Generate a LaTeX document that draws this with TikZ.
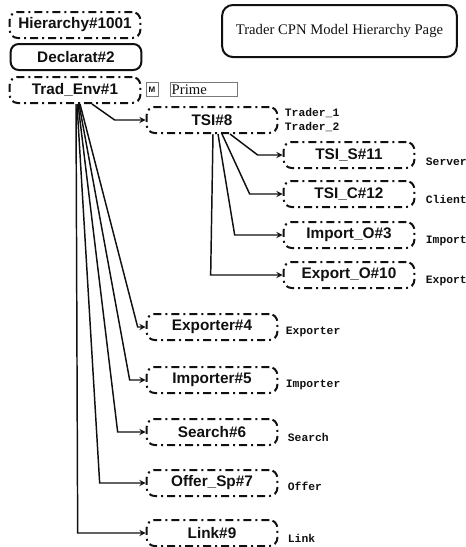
\documentclass[tikz,border=0pt]{standalone}
\usepackage{fontspec}
\setmainfont{Liberation Serif}
\setsansfont{Liberation Sans}
\setmonofont{Liberation Mono}
\usetikzlibrary{positioning}
\usetikzlibrary{calc}
\definecolor{cb}{RGB}{16,16,16}
\definecolor{cg}{RGB}{120,120,120}
\tikzstyle{page}=[cb, draw=cb, line width=1.5pt, dash pattern=on 6pt off 3pt on 1.5pt off 3pt, rounded corners=6pt, minimum width=98pt, minimum height=19.5pt, inner sep=0pt, font=\sffamily\bfseries\fontsize{11.5}{12}\selectfont]
\tikzstyle{decl}=[page, solid]
\tikzstyle{tag}=[cb, anchor=west, font=\ttfamily\bfseries\fontsize{8.5}{10}\selectfont, align=left, inner sep=1pt]
\tikzstyle{title}=[cb, draw=cb, line width=1.5pt, rounded corners=8pt, minimum width=176pt, minimum height=39pt, font=\fontsize{11}{13}\selectfont]
\tikzstyle{prime}=[cb, draw=cg, line width=0.6pt, minimum height=11pt, inner sep=0pt]
\tikzstyle{arrow}=[cb, line width=1.1pt, ->, >=stealth]

\begin{document}
\begin{tikzpicture}[x=0.75pt, y=-0.75pt]
  \useasboundingbox (0,0) rectangle (466,547);

  \node [title] (head) at (339.5,31) {Trader CPN Model Hierarchy Page};

  \node [page] (hier) at (75,25) {Hierarchy\#1001};
  \node [decl] (decl) at (76,57) {Declarat\#2};
  \node [page] (tradenv) at (75,90) {Trad\_Env\#1};
  \node [prime, minimum width=9pt, font=\sffamily\bfseries\fontsize{6}{6}\selectfont] (mtag) at (152,89.5) {M};
  \node [prime, anchor=west, text width=48pt, align=left, inner xsep=1pt, font=\fontsize{11}{11}\selectfont] (prime) at (170,89.5) {Prime};

  \node [page] (tsi) at (212,120) {TSI\#8};
  \node [page] (tsis) at (349,155) {TSI\_S\#11};
  \node [page] (tsic) at (349,194) {TSI\_C\#12};
  \node [page] (impo) at (349,235) {Import\_O\#3};
  \node [page] (expo) at (349,275) {Export\_O\#10};

  \node [page] (exporter) at (212,327) {Exporter\#4};
  \node [page] (importer) at (212,380) {Importer\#5};
  \node [page] (search) at (212,432) {Search\#6};
  \node [page] (offer) at (212,483) {Offer\_Sp\#7};
  \node [page] (link) at (212,533) {Link\#9};

  % port/socket tags
  \node [tag] (ltsi) at ($(tsi.east)+(5,0)$) {Trader\_1\\Trader\_2};
  \node [tag] (ltsis) at ($(tsis.east)+(9,7)$) {Server};
  \node [tag] (ltsic) at ($(tsic.east)+(9,5)$) {Client};
  \node [tag] (limpo) at ($(impo.east)+(9,6)$) {Import};
  \node [tag] (lexpo) at ($(expo.east)+(9,6)$) {Export};
  \node [tag] (lexporter) at ($(exporter.east)+(6,5)$) {Exporter};
  \node [tag] (limporter) at ($(importer.east)+(6,5)$) {Importer};
  \node [tag] (lsearch) at ($(search.east)+(8,5)$) {Search};
  \node [tag] (loffer) at ($(offer.east)+(8,3)$) {Offer};
  \node [tag] (llink) at ($(link.east)+(8,5)$) {Link};

  \draw [arrow] ($(tradenv.south)+(17,0)$) -- ($(tsi.west)+(-31,0)$) -- (tsi.west);
  \draw [arrow] ($(tradenv.south)+(5,0)$) -- ($(exporter.west)+(-8,0)$) -- (exporter.west);
  \draw [arrow] ($(tradenv.south)+(4,0)$) -- ($(importer.west)+(-16,0)$) -- (importer.west);
  \draw [arrow] ($(tradenv.south)+(3,0)$) -- ($(search.west)+(-28,0)$) -- (search.west);
  \draw [arrow] ($(tradenv.south)+(2,0)$) -- ($(offer.west)+(-46,0)$) -- (offer.west);
  \draw [arrow] ($(tradenv.south)+(1,0)$) -- ($(link.west)+(-68,0)$) -- (link.west);

  \draw [arrow] ($(tsi.south)+(18,0)$) -- ($(tsis.west)+(-25,0)$) -- (tsis.west);
  \draw [arrow] ($(tsi.south)+(10,0)$) -- ($(tsic.west)+(-33,0)$) -- (tsic.west);
  \draw [arrow] ($(tsi.south)+(6,0)$) -- ($(impo.west)+(-48,0)$) -- (impo.west);
  \draw [arrow] ($(tsi.south)+(1,0)$) -- ($(expo.west)+(-72,0)$) -- (expo.west);
\end{tikzpicture}
\end{document}
